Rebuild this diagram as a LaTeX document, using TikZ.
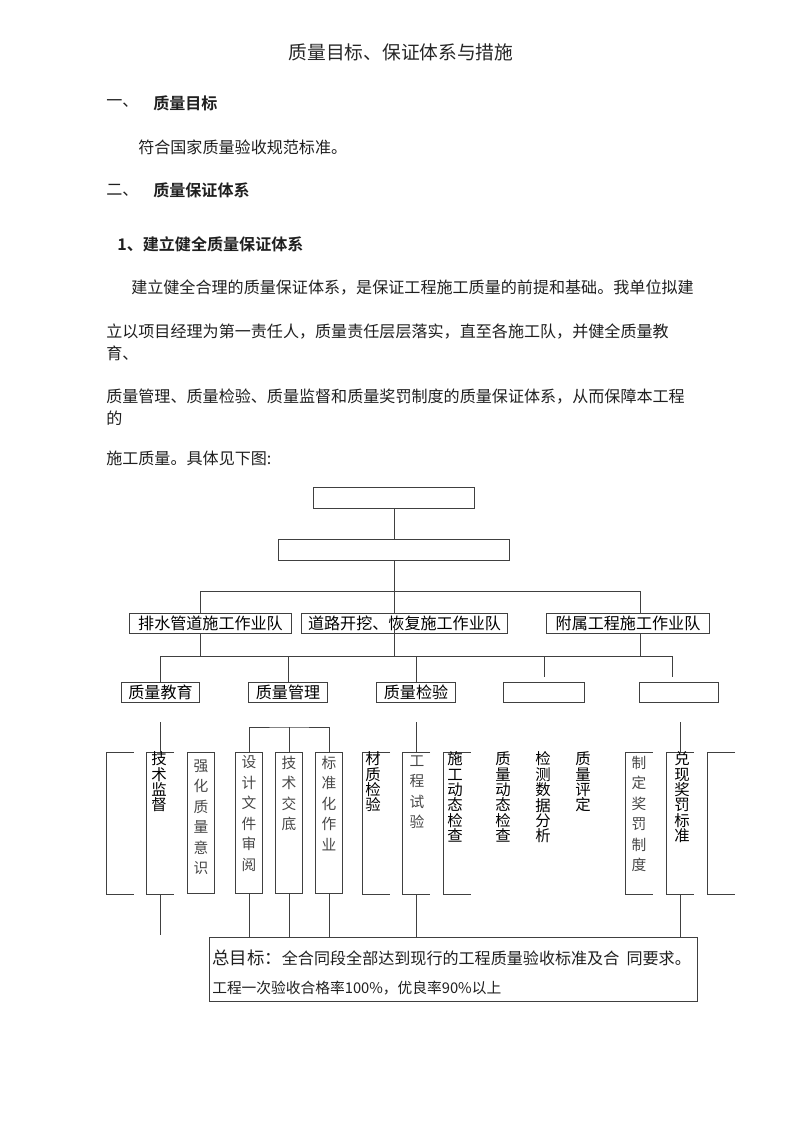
\documentclass[tikz,border=0pt]{standalone}
\usepackage{fontspec}
\setmainfont{Noto Sans CJK SC}[BoldFont={Noto Sans CJK SC Bold}]
\usepackage{tikz}
\definecolor{linegray}{gray}{0.25}
\newdimen\pxu
\pxu=0.7441pt

\begin{document}
\begin{tikzpicture}[x=0.02625cm, y=-0.02625cm,
  orgbox/.style={draw=linegray, line width=0.6pt, inner sep=0pt, minimum height=20*\pxu, font=\fontsize{12pt}{12pt}\selectfont},
  colbox/.style={draw=linegray, line width=0.6pt, inner sep=0pt, minimum width=27*\pxu, minimum height=142*\pxu},
  colopen/.style={inner sep=0pt, minimum width=27*\pxu, minimum height=142*\pxu},
  vsans/.style={anchor=north, inner sep=0pt, align=center, font=\fontsize{11.5pt}{11.5pt}\selectfont},
  vserif/.style={anchor=north, inner sep=0pt, align=center, text=black!72, font=\fontsize{11pt}{15.3pt}\selectfont},
  bodytext/.style={anchor=west, inner sep=0pt, text=black!88, font=\fontsize{12pt}{12pt}\selectfont},
  conn/.style={draw=linegray, line width=0.6pt}]
\useasboundingbox (0,0) rectangle (800,1131);

% text above the chart
\node [inner sep=0pt, text=black!85, font=\fontsize{14pt}{14pt}\selectfont] (title) at (401,52) {质量目标、保证体系与措施};
\node [bodytext] (h1) at (106,103) {一、};
\node [bodytext, font=\fontsize{12pt}{12pt}\selectfont\bfseries] (h1t) at (153,103) {质量目标};
\node [bodytext] (goaltext) at (138,147) {符合国家质量验收规范标准。};
\node [bodytext] (h2) at (106,190) {二、};
\node [bodytext, font=\fontsize{12pt}{12pt}\selectfont\bfseries] (h2t) at (153,190) {质量保证体系};
\node [bodytext, font=\fontsize{12pt}{12pt}\selectfont\bfseries] (h21) at (117,244) {1、建立健全质量保证体系};
\node [bodytext] (p1) at (131,288) {建立健全合理的质量保证体系，是保证工程施工质量的前提和基础。我单位拟建};
\node [bodytext] (p2) at (106,332) {立以项目经理为第一责任人，质量责任层层落实，直至各施工队，并健全质量教};
\node [bodytext] (p2b) at (106,353) {育、};
\node [bodytext] (p3) at (106,397) {质量管理、质量检验、质量监督和质量奖罚制度的质量保证体系，从而保障本工程};
\node [bodytext] (p3b) at (106,418) {的};
\node [bodytext] (p4) at (106,458) {施工质量。具体见下图:};

% chart boxes
\node [orgbox, minimum width=161*\pxu, minimum height=21*\pxu] (t1) at (394,497.5) {};
\node [orgbox, minimum width=232*\pxu, minimum height=21*\pxu] (t2) at (394,549.5) {};
\node [orgbox, minimum width=163*\pxu] (r3a) at (210.5,623) {排水管道施工作业队};
\node [orgbox, minimum width=207*\pxu] (r3b) at (404.5,623) {道路开挖、恢复施工作业队};
\node [orgbox, minimum width=164*\pxu] (r3c) at (628,623) {附属工程施工作业队};
\node [orgbox, minimum width=79*\pxu] (r4a) at (160.5,692) {质量教育};
\node [orgbox, minimum width=80*\pxu] (r4b) at (288,692) {质量管理};
\node [orgbox, minimum width=80*\pxu] (r4c) at (416,692) {质量检验};
\node [orgbox, minimum width=82*\pxu] (r4d) at (544,692) {};
\node [orgbox, minimum width=80*\pxu] (r4e) at (679,692) {};

% columns
\node [colopen] (c1) at (120,823) {};
\node [colopen] (c2) at (160.5,823) {};
\node [colbox] (c3) at (201,823) {};
\node [colbox] (c4) at (249,823) {};
\node [colbox] (c5) at (289,823) {};
\node [colbox] (c6) at (329,823) {};
\node [colopen] (c7) at (376.5,823) {};
\node [colopen] (c8) at (416.5,823) {};
\node [colopen] (c9) at (457,823) {};
\node [colopen] (c13) at (639,823) {};
\node [colopen] (c14) at (680,823) {};
\node [colopen] (c15) at (721.5,823) {};
\foreach \n in {c1,c2,c7,c8,c9,c13,c14,c15}
  \draw [conn] (\n.north east) -- (\n.north west) -- (\n.south west) -- (\n.south east);

\node [vsans] (l2) at (159,751.5) {技\\术\\监\\督};
\node [vserif] (l3) at (201,759.5) {强\\化\\质\\量\\意\\识};
\node [vserif] (l4) at (249,755.5) {设\\计\\文\\件\\审\\阅};
\node [vserif] (l5) at (289,755.5) {技\\术\\交\\底};
\node [vserif] (l6) at (329,755.5) {标\\准\\化\\作\\业};
\node [vsans] (l7) at (373,751.5) {材\\质\\检\\验};
\node [vserif] (l8) at (417,755.5) {工\\程\\试\\验};
\node [vsans] (l9) at (455,751.5) {施\\工\\动\\态\\检\\查};
\node [vsans] (l10) at (503,751.5) {质\\量\\动\\态\\检\\查};
\node [vsans] (l11) at (543,751.5) {检\\测\\数\\据\\分\\析};
\node [vsans] (l12) at (583,751.5) {质\\量\\评\\定};
\node [vserif] (l13) at (639,755.5) {制\\定\\奖\\罚\\制\\度};
\node [vsans] (l14) at (682,751.5) {兑\\现\\奖\\罚\\标\\准};

% goal box
\node [draw=linegray, line width=0.6pt, inner sep=0pt, minimum width=489*\pxu, minimum height=65*\pxu] (goal) at (453.5,969.5) {};
\node [bodytext, font=\fontsize{12pt}{12pt}\selectfont] (g1) at (212,958) {{\fontsize{13pt}{13pt}\selectfont 总目标：}全合同段全部达到现行的工程质量验收标准及合\ \ 同要求。};
\node [bodytext, font=\fontsize{11pt}{11pt}\selectfont] (g2) at (212,988) {工程一次验收合格率100\%，优良率90\%以上};

% connectors
\coordinate (busA west) at (200,591);
\coordinate (busA east) at (640,591);
\coordinate (busB west) at (160.5,656);
\coordinate (busB east) at (672,656);
\coordinate (road stub) at (394,627);
\coordinate (fourth stub) at (544,677);
\coordinate (fifth stub) at (672,677);
\coordinate (edu gap) at (160.5,722);
\coordinate (mgmt bar) at (289,727);
\coordinate (insp gap) at (416.5,722);
\coordinate (award gap) at (680,722);
\coordinate (edu end) at (160.5,935);

\draw [conn] (t1.south) -- (t1.south |- t2.north);
\draw [conn] (t2.south) -- (t2.south |- r3b.north);
\draw [conn] (busA west |- r3a.north) -- (busA west) -- (busA east) -- (busA east |- r3c.north);
\draw [conn] (busA west |- r3a.south) -- (busA west |- busB west);
\draw [conn] (road stub) -- (road stub |- busB west);
\draw [conn] (busA east |- r3c.south) -- (busA east |- busB east);
\draw [conn] (r4a.north) -- (busB west) -- (busB east) -- (fifth stub);
\draw [conn] (r4b.north |- busB west) -- (r4b.north);
\draw [conn] (r4c.north |- busB west) -- (r4c.north);
\draw [conn] (fourth stub |- busB west) -- (fourth stub);
\draw [conn] (edu gap) -- (c2.north);
\draw [conn] (c4.north) |- (mgmt bar) -| (c6.north);
\draw [conn] (c5.north) -- (mgmt bar);
\draw [conn] (insp gap) -- (c8.north);
\draw [conn] (award gap) -- (c14.north);
\draw [conn] (c2.south) -- (edu end);
\foreach \n in {c4,c5,c6,c8,c14}
  \draw [conn] (\n.south) -- (\n.south |- goal.north);
\end{tikzpicture}
\end{document}
